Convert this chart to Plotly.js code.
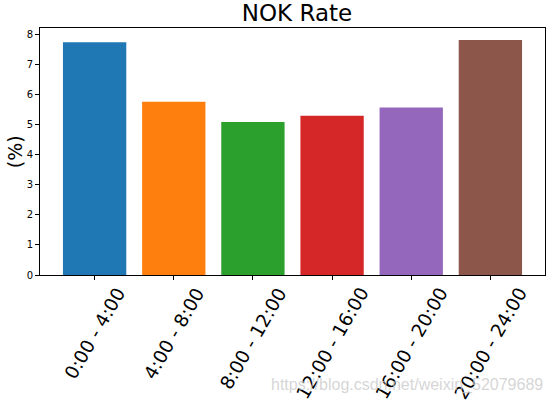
<!DOCTYPE html>
<html>
<head>
<meta charset="utf-8">
<script src="https://cdn.plot.ly/plotly-3.0.1.min.js"></script>
<style>html,body{margin:0;padding:0;background:#fff;}#chart{width:554px;height:403px;}</style>
</head>
<body>
<div id="chart"></div>
<script>
var categories = ["0:00 - 4:00", "4:00 - 8:00", "8:00 - 12:00", "12:00 - 16:00", "16:00 - 20:00", "20:00 - 24:00"];
var nokRate = [7.73, 5.75, 5.08, 5.29, 5.56, 7.80];
var barColors = ["#1f77b4", "#ff7f0e", "#2ca02c", "#d62728", "#9467bd", "#8c564b"];
var yTicks = [0, 1, 2, 3, 4, 5, 6, 7, 8];

var xIdx = categories.map(function (c, i) { return i; });

var trace = {
  type: "bar",
  x: xIdx,
  y: nokRate,
  width: 0.8,
  marker: { color: barColors, line: { width: 0 } },
  hoverinfo: "skip"
};

var annotations = categories.map(function (c, i) {
  return {
    text: c, x: i, xref: "x", y: -0.025, yref: "paper",
    xanchor: "center", yanchor: "top", textangle: -60, showarrow: false,
    font: { family: "DejaVu Sans", size: 18.5, color: "#000" }
  };
});
annotations.push({
  text: "(%)", x: -0.05, xref: "paper", y: 0.5, yref: "paper",
  xanchor: "center", yanchor: "middle", textangle: -90, showarrow: false,
  font: { family: "DejaVu Sans", size: 19, color: "#000" }
});
annotations.push({
  text: "https://blog.csdn.net/weixin_52079689", x: 1.0, xref: "paper", y: -0.445, yref: "paper",
  xanchor: "right", yanchor: "middle", showarrow: false,
  font: { family: "Liberation Sans", size: 16, color: "rgba(200,200,200,0.75)" }
});

var layout = {
  width: 554, height: 403,
  margin: { l: 40, r: 9, t: 28, b: 128 },
  paper_bgcolor: "#fff", plot_bgcolor: "#fff",
  showlegend: false,
  title: { text: "NOK Rate", x: 0.536, xanchor: "center", y: 0.967, yref: "container", yanchor: "middle",
    font: { family: "DejaVu Sans", size: 23, color: "#000" } },
  xaxis: {
    range: [-0.69, 5.69], tickmode: "array", tickvals: xIdx, showticklabels: false,
    ticks: "outside", ticklen: 4, tickcolor: "#000", showgrid: false, zeroline: false,
    showline: true, linecolor: "#000", linewidth: 1, mirror: true, fixedrange: true
  },
  yaxis: {
    range: [0, 8.2], tickmode: "array", tickvals: yTicks, ticktext: yTicks.map(String),
    ticks: "outside", ticklen: 4, tickcolor: "#000", showgrid: false, zeroline: false,
    showline: true, linecolor: "#000", linewidth: 1, mirror: true,
    tickfont: { family: "DejaVu Sans", size: 10, color: "#000" }, fixedrange: true
  },
  annotations: annotations
};

Plotly.newPlot("chart", [trace], layout, { displayModeBar: false, staticPlot: true });
</script>
</body>
</html>
